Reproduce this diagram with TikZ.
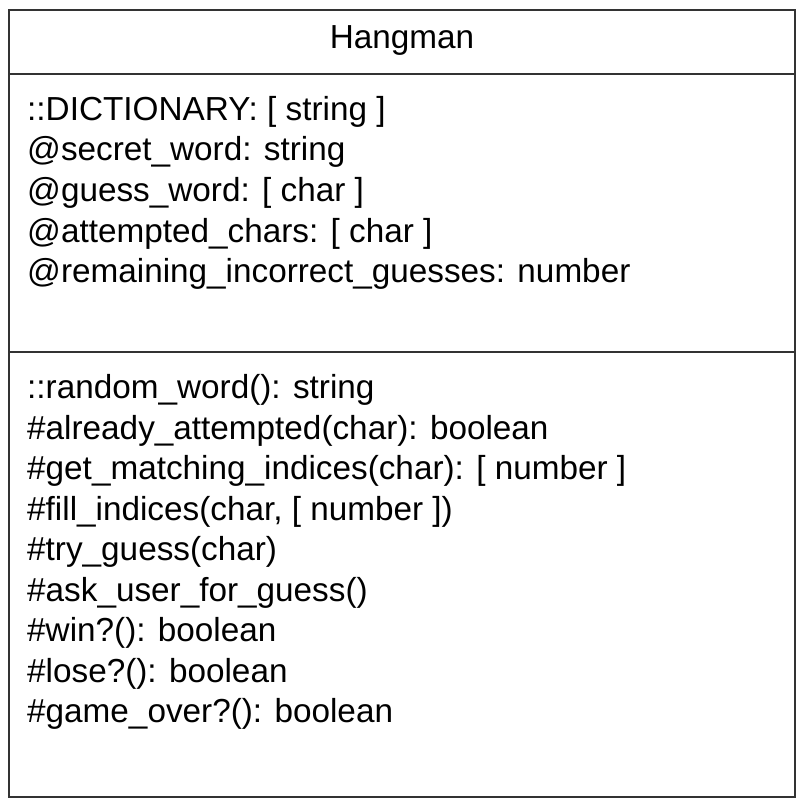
\documentclass[tikz,border=0pt]{standalone}
\usepackage{fontspec}
\setmainfont{Liberation Sans}
\begin{document}
\begin{tikzpicture}[x=1pt, y=-1pt,
    member/.style={anchor=base west, inner sep=0pt, font=\fontsize{33.3}{40}\selectfont},
    classname/.style={anchor=base, inner sep=0pt, font=\fontsize{33.3}{40}\selectfont},
    frame/.style={draw=black!80, line width=2.8pt}]
    \useasboundingbox (0, 0) rectangle (804, 805);
    \draw[frame] (9, 10) rectangle (795, 797);
    \draw[frame] (9, 74) -- (795, 74);
    \draw[frame] (9, 352) -- (795, 352);

    \node[classname] (title) at (402, 49) {Hangman};

    \node[member] (attr1) at (27, 120.5) {::DICTIONARY: [ string ]};
    \node[member] (attr2) at (27, 161) {@secret\_word: string};
    \node[member] (attr3) at (27, 201.5) {@guess\_word: [ char ]};
    \node[member] (attr4) at (27, 242) {@attempted\_chars: [ char ]};
    \node[member] (attr5) at (27, 282.5) {@remaining\_incorrect\_guesses: number};

    \node[member] (meth1) at (27, 398.5) {::random\_word(): string};
    \node[member] (meth2) at (27, 439) {\#already\_attempted(char): boolean};
    \node[member] (meth3) at (27, 479.5) {\#get\_matching\_indices(char): [ number ]};
    \node[member] (meth4) at (27, 520) {\#fill\_indices(char, [ number ])};
    \node[member] (meth5) at (27, 560.5) {\#try\_guess(char)};
    \node[member] (meth6) at (27, 601) {\#ask\_user\_for\_guess()};
    \node[member] (meth7) at (27, 641.5) {\#win?(): boolean};
    \node[member] (meth8) at (27, 682) {\#lose?(): boolean};
    \node[member] (meth9) at (27, 722.5) {\#game\_over?(): boolean};
\end{tikzpicture}
\end{document}
